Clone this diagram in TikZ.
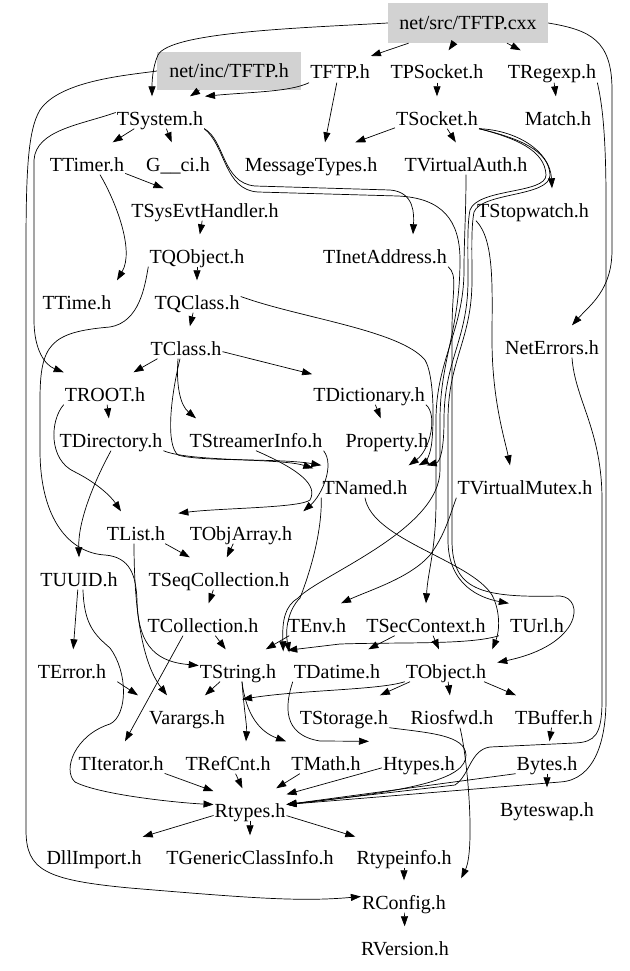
\documentclass[tikz,border=0pt]{standalone}
\usepackage{fontspec}
\setmainfont{Liberation Serif}
\usetikzlibrary{arrows.meta}
\begin{document}
\begin{tikzpicture}[x=1pt,y=-1pt,
  file/.style={font=\fontsize{20}{24}\selectfont, anchor=base, text height=28pt, text depth=3pt, inner xsep=1pt, inner ysep=0.5pt},
  srcfile/.style={font=\fontsize{20}{24}\selectfont, fill=gray!35, inner sep=2pt},
  dep/.style={-{Triangle[length=10pt,width=7pt]}, line width=0.7pt}]
\useasboundingbox (0,0) rectangle (629,971);
% The two files of the graph that are shaded
\node [srcfile, minimum width=160pt, minimum height=40pt] (cxx) at (468,23) {net/src/TFTP.cxx};
\node [srcfile, minimum width=144pt, minimum height=38pt] (incTFTP) at (229,71) {net/inc/TFTP.h};
% Headers, row by row (coordinates are baselines)
\node [file] (TFTPh) at (340,79) {TFTP.h};
\node [file] (TPSocket) at (437,79) {TPSocket.h};
\node [file] (TRegexp) at (552,79) {TRegexp.h};
\node [file] (TSystem) at (160,125) {TSystem.h};
\node [file] (TSocket) at (437,125) {TSocket.h};
\node [file] (Match) at (558,125) {Match.h};
\node [file] (TTimer) at (87,171) {TTimer.h};
\node [file] (Gci) at (178,171) {G\_\_ci.h};
\node [file] (MsgTypes) at (311,171) {MessageTypes.h};
\node [file] (VAuth) at (466,171) {TVirtualAuth.h};
\node [file] (SysEvt) at (205,217) {TSysEvtHandler.h};
\node [file] (Stopwatch) at (533,217) {TStopwatch.h};
\node [file] (TQObject) at (197,263) {TQObject.h};
\node [file] (InetAddr) at (385,263) {TInetAddress.h};
\node [file] (TTime) at (77,309) {TTime.h};
\node [file] (TQClass) at (197,309) {TQClass.h};
\node [file] (NetErrors) at (552,354) {NetErrors.h};
\node [file] (TClass) at (186,355) {TClass.h};
\node [file] (TROOT) at (105,401) {TROOT.h};
\node [file] (TDictionary) at (369,401) {TDictionary.h};
\node [file] (TDirectory) at (111,447) {TDirectory.h};
\node [file] (Streamer) at (256,447) {TStreamerInfo.h};
\node [file] (Property) at (387,447) {Property.h};
\node [file] (TNamed) at (365,494) {TNamed.h};
\node [file] (VMutex) at (525,494) {TVirtualMutex.h};
\node [file] (TList) at (136,540) {TList.h};
\node [file] (TObjArray) at (241,540) {TObjArray.h};
\node [file] (TUUID) at (79,586) {TUUID.h};
\node [file] (SeqColl) at (219,586) {TSeqCollection.h};
\node [file] (TCollection) at (203,632) {TCollection.h};
\node [file] (TEnv) at (317,632) {TEnv.h};
\node [file] (SecCtx) at (426,632) {TSecContext.h};
\node [file] (TUrl) at (537,632) {TUrl.h};
\node [file] (TError) at (72,678) {TError.h};
\node [file] (TString) at (238,678) {TString.h};
\node [file] (TDatime) at (337,678) {TDatime.h};
\node [file] (TObject) at (446,678) {TObject.h};
\node [file] (Varargs) at (187,724) {Varargs.h};
\node [file] (TStorage) at (344,724) {TStorage.h};
\node [file] (Riosfwd) at (452,724) {Riosfwd.h};
\node [file] (TBuffer) at (554,724) {TBuffer.h};
\node [file] (TIterator) at (121,770) {TIterator.h};
\node [file] (TRefCnt) at (228,770) {TRefCnt.h};
\node [file] (TMath) at (326,770) {TMath.h};
\node [file] (Htypes) at (419,770) {Htypes.h};
\node [file] (Bytes) at (547,770) {Bytes.h};
\node [file] (Rtypes) at (250,817) {Rtypes.h};
\node [file] (Byteswap) at (547,816) {Byteswap.h};
\node [file] (DllImport) at (94,864) {DllImport.h};
\node [file] (GenClass) at (250,864) {TGenericClassInfo.h};
\node [file] (Rtypeinfo) at (404,864) {Rtypeinfo.h};
\node [file] (RConfig) at (404,909) {RConfig.h};
\node [file] (RVersion) at (405,955) {RVersion.h};
% Includes of the source file
\draw [dep] (cxx) -- (TFTPh);
\draw [dep] (cxx) -- (TPSocket);
\draw [dep] (cxx) -- (TRegexp);
\draw [dep] (cxx.west) .. controls (300,28) and (170,32) .. (158,55) .. controls (152,68) and (152,85) .. ([xshift=-8pt]TSystem.north);
\draw [dep] (cxx.east) .. controls (590,30) and (612,40) .. (612,90) -- (612,250) .. controls (612,290) and (590,305) .. ([xshift=20pt]NetErrors.north);
% Includes of the header
\draw [dep] (incTFTP) -- ([xshift=30pt]TSystem.north);
\draw [dep] (incTFTP.west) .. controls (130,75) and (60,80) .. (40,110) .. controls (28,130) and (26,170) .. (26,250) -- (26,830) .. controls (26,870) and (45,880) .. (130,888) .. controls (250,898) and (300,902) .. (RConfig.west);
\draw [dep] (TFTPh.south west) .. controls (290,92) and (250,92) .. ([xshift=45pt]TSystem.north);
\draw [dep] (TFTPh) -- ([xshift=14pt]MsgTypes.north);
\draw [dep] (TPSocket) -- (TSocket);
\draw [dep] (TRegexp) -- (Match);
\draw [dep] (TRegexp.south east) .. controls (600,95) and (606,120) .. (606,200) -- (606,700) .. controls (606,740) and (595,780) .. (560,782) -- (Rtypes.east);
% TSocket and its bundle down the middle
\draw [dep] (TSocket) -- (MsgTypes);
\draw [dep] (TSocket) -- (VAuth);
\draw [dep] (TSocket.south east) .. controls (515,130) and (550,150) .. ([xshift=19pt]Stopwatch.north);
\draw [dep] (TSocket.south east) .. controls (515,138) and (545,150) .. (546,175) .. controls (546,194) and (478,188) .. (470,210) .. controls (467,225) and (468,250) .. (468,280) .. controls (468,340) and (444,360) .. (444,420) .. controls (444,450) and (440,462) .. ([xshift=18pt]TNamed.north east);
\draw [dep] (TSocket.south east) .. controls (518,138) and (549,150) .. (550,175) .. controls (550,197) and (482,192) .. (474,212) .. controls (471,228) and (472,250) .. (472,280) .. controls (472,340) and (448,360) .. (448,420) -- (448,540) .. controls (448,585) and (480,598) .. (TUrl.north west);
\draw [dep] (VAuth.south) .. controls (466,215) and (464,240) .. (464,270) .. controls (464,330) and (436,360) .. (436,420) -- (436,500) .. controls (436,550) and (428,570) .. (SecCtx.north);
\draw [dep] (InetAddr.south east) .. controls (458,275) and (452,290) .. (452,330) -- (452,540) .. controls (452,590) and (480,598) .. (560,596) .. controls (585,598) and (582,645) .. ([xshift=10pt,yshift=3pt]TObject.east);
\draw [dep] (Stopwatch.south west) .. controls (495,240) and (492,290) .. (492,340) .. controls (492,400) and (505,440) .. ([xshift=-15pt]VMutex.north);
\draw [dep] (VMutex.south west) .. controls (450,515) and (445,535) .. (430,555) .. controls (410,578) and (370,590) .. ([xshift=24pt]TEnv.north);
% TSystem
\draw [dep] (TSystem) -- (TTimer);
\draw [dep] (TSystem) -- (Gci);
\draw [dep] (TSystem.west) .. controls (80,125) and (36,130) .. (34,160) -- (34,320) .. controls (34,350) and (45,365) .. (TROOT.north west);
\draw [dep] (TSystem.south east) .. controls (225,140) and (222,183) .. (255,186) -- (390,190) .. controls (415,192) and (414,215) .. ([xshift=28pt]InetAddr.north);
\draw [dep] (TSystem.south east) .. controls (226,146) and (224,190) .. (258,192) -- (398,196) .. controls (442,198) and (460,220) .. (460,260) .. controls (460,330) and (440,360) .. (440,420) -- (440,470) .. controls (440,530) and (320,575) .. (298,598) .. controls (285,606) and (282,620) .. ([xshift=6pt,yshift=-2pt]TString.north east);
\draw [dep] (TTimer) -- (SysEvt);
\draw [dep] ([xshift=13pt]TTimer.south) .. controls (115,200) and (135,250) .. ([xshift=40pt]TTime.north);
\draw [dep] (SysEvt) -- (TQObject);
% TQObject, TQClass and TClass
\draw [dep] (TQObject) -- (TQClass);
\draw [dep] (TQObject.south west) .. controls (145,285) and (140,322) .. (110,327) .. controls (50,332) and (40,345) .. (40,400) -- (40,450) .. controls (40,520) and (70,553) .. (105,555) .. controls (130,557) and (136,575) .. (137,600) .. controls (138,650) and (160,662) .. (TString.west);
\draw [dep] (TQClass) -- (TClass);
\draw [dep] (TQClass.east) .. controls (300,318) and (400,330) .. (425,360) .. controls (434,375) and (434,420) .. (432,440) .. controls (431,455) and (425,462) .. ([xshift=10pt]TNamed.north east);
\draw [dep] (TClass) -- (TROOT);
\draw [dep] (TClass) -- (TDictionary);
\draw [dep] ([xshift=-8pt]TClass.south) .. controls (176,385) and (180,405) .. ([xshift=-60pt]Streamer.north);
\draw [dep] ([xshift=-6pt]TClass.south) .. controls (170,400) and (166,445) .. (178,455) .. controls (200,462) and (280,458) .. (TNamed.north west);
% TROOT, TDirectory and friends
\draw [dep] (TROOT) -- (TDirectory);
\draw [dep] (TROOT.south west) .. controls (50,420) and (48,460) .. (75,472) .. controls (95,482) and (110,495) .. ([xshift=-15pt]TList.north);
\draw [dep] (TDictionary) -- (Property);
\draw [dep] (TDictionary.south east) .. controls (438,415) and (430,450) .. (TNamed.north east);
\draw [dep] (TDirectory.south) .. controls (95,480) and (78,520) .. (TUUID.north);
\draw [dep] (TDirectory.south east) .. controls (190,462) and (280,458) .. ([xshift=-8pt,yshift=-3pt]TNamed.north west);
\draw [dep] (Streamer.south east) .. controls (335,465) and (322,495) .. ([xshift=10pt]TObjArray.north east);
\draw [dep] (Streamer.south) .. controls (300,470) and (318,485) .. (310,500) .. controls (300,508) and (220,508) .. ([xshift=12pt,yshift=-2pt]TList.north east);
% Collections
\draw [dep] (TList) -- (SeqColl);
\draw [dep] (TObjArray) -- (SeqColl);
\draw [dep] (SeqColl) -- (TCollection);
\draw [dep] ([xshift=-2pt]TList.south) .. controls (134,600) and (140,660) .. ([xshift=-20pt]Varargs.north);
\draw [dep] (TUUID) -- (TError);
\draw [dep] ([xshift=4pt]TUUID.south) .. controls (84,625) and (95,635) .. (110,648) .. controls (128,672) and (128,715) .. (110,724) .. controls (75,735) and (62,770) .. (75,782) .. controls (100,795) and (180,803) .. (Rtypes.west);
\draw [dep] (TCollection) -- (TString);
\draw [dep] ([xshift=-20pt]TCollection.south) -- ([xshift=4pt]TIterator.north);
% Row of TEnv, TSecContext and TUrl
\draw [dep] (TEnv) -- (TString);
\draw [dep] (TNamed.south west) .. controls (322,540) and (305,585) .. (300,598) .. controls (288,610) and (285,630) .. ([xshift=12pt,yshift=-3pt]TString.north east);
\draw [dep] (TNamed.south) .. controls (372,540) and (470,560) .. (492,595) .. controls (500,610) and (500,630) .. ([xshift=5pt]TObject.north east);
\draw [dep] (SecCtx) -- (TObject);
\draw [dep] (SecCtx) -- (TDatime);
\draw [dep] ([xshift=-10pt]TUrl.south west) .. controls (470,645) and (400,642) .. (340,644) -- ([xshift=10pt,yshift=-1pt]TString.north east);
% TObject and below
\draw [dep] (TObject.south west) .. controls (380,690) and (300,690) .. ([xshift=16pt,yshift=-4pt]Varargs.north east);
\draw [dep] (TObject) -- (TStorage);
\draw [dep] (TObject) -- (Riosfwd);
\draw [dep] (TObject) -- (TBuffer);
\draw [dep] ([xshift=10pt]TError.south east) -- ([xshift=-10pt]Varargs.north west);
\draw [dep] (TString) -- (Varargs);
\draw [dep] ([xshift=4pt]TString.south) .. controls (244,710) and (247,725) .. ([xshift=18pt]TRefCnt.north);
\draw [dep] ([xshift=4pt]TString.south) .. controls (246,715) and (260,732) .. ([xshift=-40pt]TMath.north);
\draw [dep] (TDatime.south west) .. controls (285,705) and (282,735) .. (320,741) -- ([xshift=-50pt]Htypes.north);
\draw [dep] (TStorage.south east) .. controls (430,733) and (465,735) .. (466,755) .. controls (466,778) and (420,790) .. (Rtypes.east);
\draw [dep] (TBuffer) -- (Bytes);
\draw [dep] (Bytes) -- (Byteswap);
\draw [dep] ([xshift=20pt]NetErrors.south) .. controls (575,400) and (602,430) .. (602,500) -- (602,700) .. controls (602,735) and (595,742) .. (575,743) -- (490,747) .. controls (470,750) and (470,775) .. (455,785) -- (Rtypes.east);
% Everything ends in Rtypes.h
\draw [dep] (TIterator) -- (Rtypes);
\draw [dep] (TRefCnt) -- (Rtypes);
\draw [dep] (TMath) -- (Rtypes);
\draw [dep] (Htypes) -- (Rtypes);
\draw [dep] (Bytes.south west) -- (Rtypes.east);
\draw [dep] (Rtypes) -- (DllImport);
\draw [dep] (Rtypes) -- (GenClass);
\draw [dep] (Rtypes) -- (Rtypeinfo);
\draw [dep] (Rtypeinfo) -- (RConfig);
\draw [dep] ([xshift=8pt]Riosfwd.south) .. controls (468,760) and (475,850) .. ([xshift=14pt,yshift=2pt]RConfig.north east);
\draw [dep] (RConfig) -- (RVersion);
\end{tikzpicture}
\end{document}
